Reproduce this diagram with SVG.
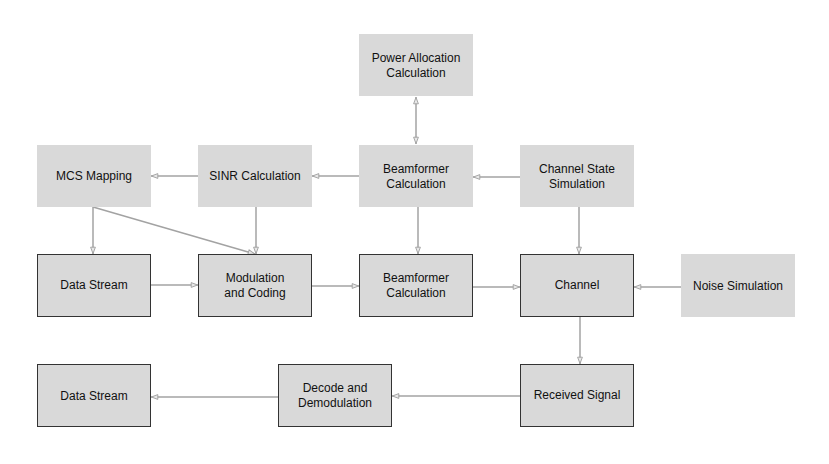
<svg xmlns="http://www.w3.org/2000/svg" width="829" height="464" viewBox="0 0 829 464">
<defs>
<style>
.n{fill:#d9d9d9}
.b{stroke:#333;stroke-width:1}
.t{font-family:"Liberation Sans",Arial,sans-serif;font-size:12px;fill:#111;text-anchor:middle}
.c{stroke:#a3a3a3;stroke-width:1.5;fill:none}
</style>
<marker id="a" viewBox="0 0 10 8" refX="9.5" refY="4" markerWidth="8" markerHeight="6.4" markerUnits="userSpaceOnUse" orient="auto-start-reverse">
<path d="M1,1 L9,4 L1,7 Z" fill="#e8e8e8" stroke="#a3a3a3" stroke-width="1.2"/>
</marker>
</defs>
<rect width="829" height="464" fill="#fff"/>
<g id="connectors">
<line class="c" x1="198" y1="176" x2="151" y2="176" marker-end="url(#a)"/>
<line class="c" x1="359" y1="176" x2="312" y2="176" marker-end="url(#a)"/>
<line class="c" x1="520" y1="177" x2="473" y2="177" marker-end="url(#a)"/>
<line class="c" x1="416" y1="97" x2="416" y2="144" marker-start="url(#a)" marker-end="url(#a)"/>
<line class="c" x1="93" y1="207" x2="93" y2="254" marker-end="url(#a)"/>
<line class="c" x1="93" y1="207" x2="255" y2="254" marker-end="url(#a)"/>
<line class="c" x1="256" y1="207" x2="256" y2="254" marker-end="url(#a)"/>
<line class="c" x1="151" y1="285" x2="198" y2="285" marker-end="url(#a)"/>
<line class="c" x1="312" y1="286" x2="359" y2="286" marker-end="url(#a)"/>
<line class="c" x1="418" y1="207" x2="418" y2="254" marker-end="url(#a)"/>
<line class="c" x1="473" y1="287" x2="520" y2="287" marker-end="url(#a)"/>
<line class="c" x1="579" y1="207" x2="579" y2="254" marker-end="url(#a)"/>
<line class="c" x1="681" y1="287" x2="634" y2="287" marker-end="url(#a)"/>
<line class="c" x1="580" y1="316" x2="580" y2="364" marker-end="url(#a)"/>
<line class="c" x1="520" y1="396" x2="392" y2="396" marker-end="url(#a)"/>
<line class="c" x1="278" y1="397" x2="151" y2="397" marker-end="url(#a)"/>
</g>
<g id="power"><rect class="n" x="359" y="34" width="114" height="62"/><text class="t" x="416" y="62">Power Allocation</text><text class="t" x="416" y="77">Calculation</text></g>
<g id="mcs"><rect class="n" x="37" y="145" width="114" height="62"/><text class="t" x="94" y="180">MCS Mapping</text></g>
<g id="sinr"><rect class="n" x="198" y="145" width="114" height="62"/><text class="t" x="255" y="180">SINR Calculation</text></g>
<g id="bfcalc"><rect class="n" x="359" y="145" width="114" height="62"/><text class="t" x="416" y="173">Beamformer</text><text class="t" x="416" y="188">Calculation</text></g>
<g id="chstate"><rect class="n" x="520" y="145" width="114" height="62"/><text class="t" x="577" y="173">Channel State</text><text class="t" x="577" y="188">Simulation</text></g>
<g id="ds1"><rect class="n b" x="37.5" y="254.5" width="113" height="62"/><text class="t" x="94" y="289">Data Stream</text></g>
<g id="mod"><rect class="n b" x="198.5" y="254.5" width="113" height="62"/><text class="t" x="255" y="282">Modulation</text><text class="t" x="255" y="297">and Coding</text></g>
<g id="bf"><rect class="n b" x="359.5" y="254.5" width="113" height="62"/><text class="t" x="416" y="282">Beamformer</text><text class="t" x="416" y="297">Calculation</text></g>
<g id="channel"><rect class="n b" x="520.5" y="254.5" width="113" height="62"/><text class="t" x="577" y="289">Channel</text></g>
<g id="noise"><rect class="n" x="681" y="254" width="114" height="63"/><text class="t" x="738" y="290">Noise Simulation</text></g>
<g id="ds2"><rect class="n b" x="37.5" y="364.5" width="113" height="62"/><text class="t" x="94" y="400">Data Stream</text></g>
<g id="decode"><rect class="n b" x="278.5" y="364.5" width="113" height="62"/><text class="t" x="335" y="392">Decode and</text><text class="t" x="335" y="407">Demodulation</text></g>
<g id="received"><rect class="n b" x="520.5" y="364.5" width="113" height="62"/><text class="t" x="577" y="399">Received Signal</text></g>
</svg>
